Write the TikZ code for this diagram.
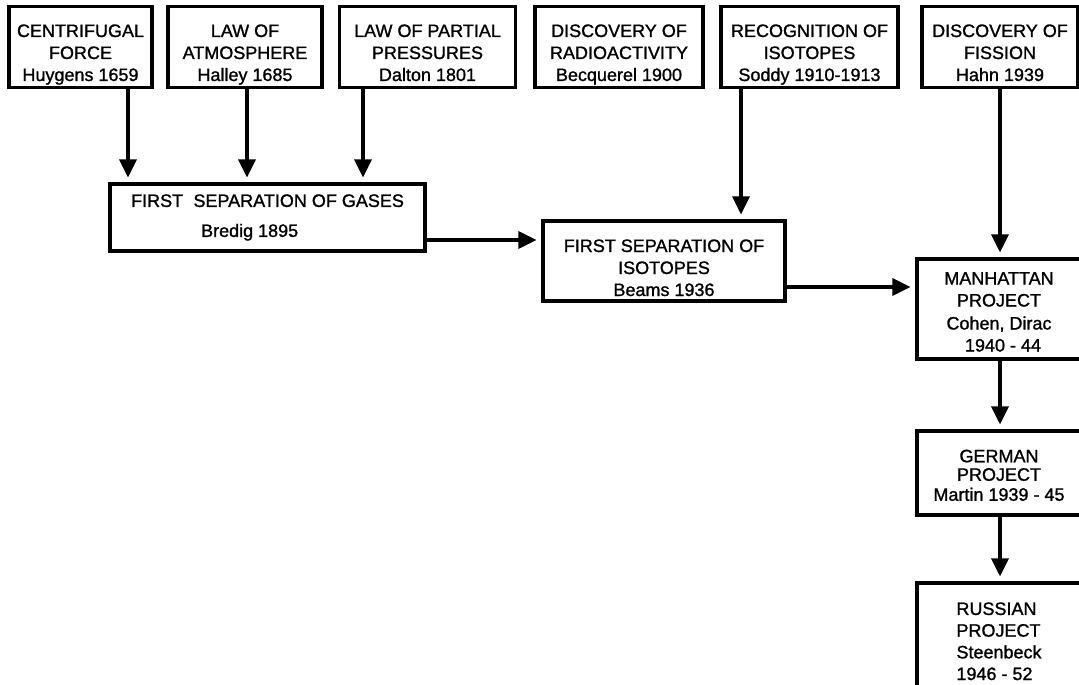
\documentclass[tikz,border=0pt]{standalone}
\usepackage{fontspec}
\setmainfont{Liberation Sans}
\newfontfamily\labfont{Liberation Sans}[FakeBold=1.2]
\usetikzlibrary{arrows.meta}
\newcommand\myTop[1]{\rule{0pt}{#1}}
\newcommand\myBot[1]{\rule[-#1]{0pt}{0pt}}
\begin{document}
\begin{tikzpicture}[x=1pt,y=-1pt,
  box/.style={draw, line width=3.1pt, inner sep=0pt, align=center,
    font=\labfont\fontsize{18}{22}\selectfont},
  arr/.style={line width=3.3pt, -{Triangle[length=18pt,width=17pt]}, shorten >=5pt}
]
\useasboundingbox (0,0) rectangle (1079,685);
% top row
\node[box, minimum width=143pt, minimum height=81pt] (b1) at (80.5,47) {\myTop{28pt}CENTRIFUGAL\\FORCE\\Huygens 1659\myBot{4pt}};
\node[box, minimum width=154pt, minimum height=81pt] (b2) at (245,47) {\myTop{28pt}LAW OF\\ATMOSPHERE\\Halley 1685\myBot{4pt}};
\node[box, minimum width=176pt, minimum height=81pt] (b3) at (427.5,47) {\myTop{28pt}LAW OF PARTIAL\\PRESSURES\\Dalton 1801\myBot{4pt}};
\node[box, minimum width=168pt, minimum height=81pt] (b4) at (619,47) {\myTop{28pt}DISCOVERY OF\\RADIOACTIVITY\\Becquerel 1900\myBot{4pt}};
\node[box, minimum width=177pt, minimum height=81pt] (b5) at (809.5,47) {\myTop{28pt}RECOGNITION OF\\ISOTOPES\\Soddy 1910-1913\myBot{4pt}};
\node[box, minimum width=156pt, minimum height=81pt] (b6) at (1000,47) {\myTop{28pt}DISCOVERY OF\\FISSION\\Hahn 1939\myBot{4pt}};
% middle
\node[box, minimum width=315pt, minimum height=67pt, align=left] (fsg) at (267.5,217.5)
  {FIRST\hspace{0.3em} SEPARATION OF GASES\\[8pt]\hspace*{70pt}Bredig 1895};
\node[box, minimum width=242pt, minimum height=80pt] (fsi) at (664,261)
  {\myTop{30pt}FIRST SEPARATION OF\\ISOTOPES\\Beams 1936\myBot{4pt}};
% right column
\node[box, minimum width=164pt, minimum height=100pt] (man) at (999,309)
  {\myTop{22pt}MANHATTAN\\PROJECT\\[1pt]Cohen, Dirac\\\hspace*{8pt}1940 - 44\myBot{4pt}};
\node[box, minimum width=164pt, minimum height=84pt, font=\labfont\fontsize{18}{18.5}\selectfont] (ger) at (999,473)
  {\myTop{21pt}GERMAN\\PROJECT\\[1.5pt]Martin 1939 - 45\myBot{4pt}};
\node[box, minimum width=164pt, minimum height=130pt, align=left, font=\labfont\fontsize{18}{21.7}\selectfont] (rus) at (999,648)
  {\myTop{14pt}RUSSIAN\\PROJECT\\Steenbeck\\1946 - 52\myBot{15pt}};
% connectors
\draw[arr] (b1.south -| 128,0) -- (fsg.north -| 128,0);
\draw[arr] (b2.south -| 247,0) -- (fsg.north -| 247,0);
\draw[arr] (b3.south -| 363,0) -- (fsg.north -| 363,0);
\draw[arr] (b5.south -| 741,0) -- (fsi.north -| 741,0);
\draw[arr] (b6.south -| 1000,0) -- (man.north -| 1000,0);
\draw[arr] (fsg.east |- 0,240) -- (fsi.west |- 0,240);
\draw[arr] (fsi.east |- 0,287) -- (man.west |- 0,287);
\draw[arr] (man.south -| 1000,0) -- (ger.north -| 1000,0);
\draw[arr] (ger.south -| 1000,0) -- (rus.north -| 1000,0);
\end{tikzpicture}
\end{document}
